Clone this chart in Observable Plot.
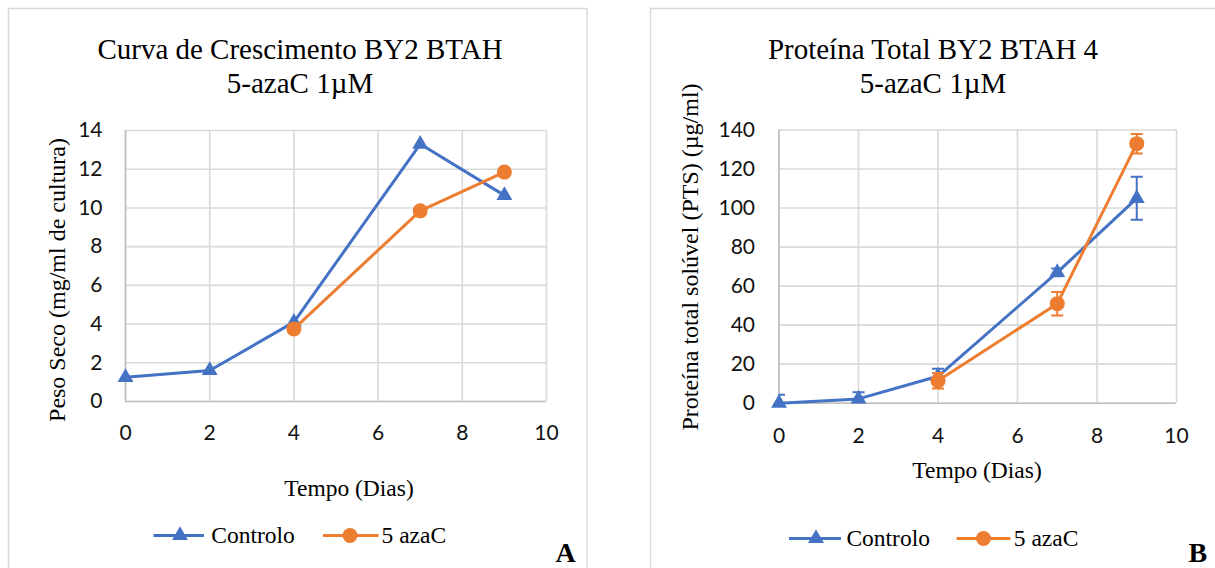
<!DOCTYPE html>
<html>
<head>
<meta charset="utf-8">
<script src="https://cdn.jsdelivr.net/npm/d3@7"></script>
<script src="https://cdn.jsdelivr.net/npm/@observablehq/plot@0.6"></script>
<style>
  html, body { margin: 0; padding: 0; background: #fff; }
  #wrap { position: relative; width: 1215px; height: 568px; overflow: hidden; background: #fff; }
  #wrap > svg { position: absolute; top: 0; }
  #overlay { left: 0; pointer-events: none; }
</style>
</head>
<body>
<div id="wrap"></div>
<script>
// ---------- data ----------
const days = [0, 2, 4, 7, 9];
const daysAza = [4, 7, 9];
const xTicks = [0, 2, 4, 6, 8, 10];

// Chart A – Peso Seco (mg/ml de cultura)
const pesoControlo = [1.25, 1.6, 4.1, 13.3, 10.65];
const pesoAza = [3.75, 9.85, 11.85];
const yTicksA = [0, 2, 4, 6, 8, 10, 12, 14];

// Chart B – Proteína total solúvel (µg/ml)
const protControlo = [0, 2.2, 13.8, 67, 105];
const protControloErr = [4.3, 3.4, 3.8, 2, 11];
const protAza = [11.5, 51, 133];
const protAzaErr = [4, 6, 5];
const yTicksB = [0, 20, 40, 60, 80, 100, 120, 140];

const seriesNames = ["Controlo", "5 azaC"];
const BLUE = "#4472C4", ORANGE = "#ED7D31";
const GRID = "#d9d9d9", AXIS = "#bfbfbf";

// ---------- tables ----------
const tA_c = days.map((d, i) => ({x: d, y: pesoControlo[i]}));
const tA_a = daysAza.map((d, i) => ({x: d, y: pesoAza[i]}));
const tB_c = days.map((d, i) => ({x: d, y: protControlo[i], e: protControloErr[i]}));
const tB_a = daysAza.map((d, i) => ({x: d, y: protAza[i], e: protAzaErr[i]}));

const capSymbol = {
  draw(context, size) {
    const w = Math.sqrt(size / Math.PI);
    context.moveTo(-w, 0);
    context.lineTo(w, 0);
  }
};

function errMarks(t, color) {
  return [
    Plot.ruleX(t, {x: "x", y1: d => d.y - d.e, y2: d => d.y + d.e, stroke: color, strokeWidth: 2, clip: true}),
    Plot.dot(t, {x: "x", y: d => d.y + d.e, symbol: capSymbol, r: 6, stroke: color, strokeWidth: 2, clip: true}),
    Plot.dot(t, {x: "x", y: d => d.y - d.e, symbol: capSymbol, r: 6, stroke: color, strokeWidth: 2, clip: true})
  ];
}

function makeChart(o) {
  return Plot.plot({
    width: o.width, height: 568,
    marginLeft: o.ml, marginRight: o.mr, marginTop: o.mt, marginBottom: o.mb,
    style: {fontFamily: "Lato, sans-serif", fontSize: "21px", color: "#111", background: "white", overflow: "visible"},
    x: {domain: [0, 10], ticks: xTicks, tickSize: 0, tickPadding: o.xpad, label: null},
    y: {domain: o.ydomain, ticks: o.yticks, tickSize: 0, tickPadding: o.ypad, label: null},
    marks: [
      Plot.gridX(xTicks, {stroke: GRID, strokeOpacity: 1, strokeWidth: 1.6}),
      Plot.gridY(o.yticks, {stroke: GRID, strokeOpacity: 1, strokeWidth: 1.6}),
      Plot.ruleX([0], {stroke: AXIS, strokeWidth: 1.6}),
      Plot.ruleY([0], {stroke: AXIS, strokeWidth: 1.6}),
      Plot.line(o.c, {x: "x", y: "y", stroke: BLUE, strokeWidth: 3}),
      Plot.dot(o.c, {x: "x", y: "y", symbol: "triangle", r: 5.9, fill: BLUE}),
      ...(o.err ? errMarks(o.c, BLUE) : []),
      Plot.line(o.a, {x: "x", y: "y", stroke: ORANGE, strokeWidth: 3}),
      Plot.dot(o.a, {x: "x", y: "y", symbol: "circle", r: 7.5, fill: ORANGE}),
      ...(o.err ? errMarks(o.a, ORANGE) : [])
    ]
  });
}

const wrap = document.getElementById("wrap");

const chartA = makeChart({width: 600, ml: 125, mr: 54, mt: 130, mb: 167, xpad: 23.5, ypad: 23,
  ydomain: [0, 14], yticks: yTicksA, c: tA_c, a: tA_a, err: false});
chartA.style.left = "0px";
wrap.appendChild(chartA);

const chartB = makeChart({width: 605, ml: 168.5, mr: 39, mt: 129.5, mb: 165.3, xpad: 24.6, ypad: 24,
  ydomain: [0, 140], yticks: yTicksB, c: tB_c, a: tB_a, err: true});
chartB.style.left = "610px";
wrap.appendChild(chartB);

// ---------- overlay: frames, titles, axis titles, legends ----------
const NS = "http://www.w3.org/2000/svg";
const ov = document.createElementNS(NS, "svg");
ov.setAttribute("id", "overlay");
ov.setAttribute("width", 1215);
ov.setAttribute("height", 568);
wrap.appendChild(ov);

function el(tag, attrs, text) {
  const e = document.createElementNS(NS, tag);
  for (const k in attrs) e.setAttribute(k, attrs[k]);
  if (text != null) e.textContent = text;
  ov.appendChild(e);
  return e;
}
const SERIF = "'Liberation Serif', 'Times New Roman', serif";

// panel frames
el("rect", {x: 8.5, y: 8.5, width: 578.5, height: 580, fill: "none", stroke: GRID, "stroke-width": 1.5});
el("rect", {x: 650.5, y: 8.5, width: 600, height: 580, fill: "none", stroke: GRID, "stroke-width": 1.5});

// titles
const titles = [
  {x: 300, l1: "Curva de Crescimento BY2 BTAH", l2: "5-azaC 1\u00B5M"},
  {x: 933, l1: "Proteína Total BY2 BTAH 4", l2: "5-azaC 1\u00B5M"}
];
for (const t of titles) {
  el("text", {x: t.x, y: 59, "text-anchor": "middle", "font-family": SERIF, "font-size": 29, fill: "#000"}, t.l1);
  el("text", {x: t.x, y: 93, "text-anchor": "middle", "font-family": SERIF, "font-size": 29, fill: "#000"}, t.l2);
}

// axis titles
el("text", {x: 349, y: 496, "text-anchor": "middle", "font-family": SERIF, "font-size": 23.5, fill: "#000"}, "Tempo (Dias)");
el("text", {x: 977, y: 478, "text-anchor": "middle", "font-family": SERIF, "font-size": 23.5, fill: "#000"}, "Tempo (Dias)");
el("text", {transform: "translate(64.6,280) rotate(-90)", "text-anchor": "middle", "font-family": SERIF, "font-size": 24, fill: "#000"}, "Peso Seco (mg/ml de cultura)");
el("text", {transform: "translate(698.2,257) rotate(-90)", "text-anchor": "middle", "font-family": SERIF, "font-size": 24, fill: "#000"}, "Proteína total solúvel (PTS) (\u00B5g/ml)");

// legends
function triPath(cx, cy, s) {
  const h = s * Math.sqrt(3) / 2;
  return `M${cx},${cy - 2 * h / 3}L${cx + s / 2},${cy + h / 3}L${cx - s / 2},${cy + h / 3}Z`;
}
const legends = [
  {y: 535.5, base: 543, c: [153.5, 204, 180, 211.3], a: [323, 378.5, 350, 381.5]},
  {y: 538.5, base: 545.5, c: [789, 841, 816, 846.4], a: [956.6, 1010.4, 983.5, 1013.8]}
];
for (const L of legends) {
  el("line", {x1: L.c[0], x2: L.c[1], y1: L.y, y2: L.y, stroke: BLUE, "stroke-width": 3});
  el("path", {d: triPath(L.c[2], L.y, 16), fill: BLUE});
  el("text", {x: L.c[3], y: L.base, "font-family": SERIF, "font-size": 23.5, fill: "#000"}, seriesNames[0]);
  el("line", {x1: L.a[0], x2: L.a[1], y1: L.y, y2: L.y, stroke: ORANGE, "stroke-width": 3});
  el("circle", {cx: L.a[2], cy: L.y, r: 7.5, fill: ORANGE});
  el("text", {x: L.a[3], y: L.base, "font-family": SERIF, "font-size": 23.5, fill: "#000"}, seriesNames[1]);
}

// panel letters
el("text", {x: 555.5, y: 562, "font-family": SERIF, "font-size": 28, "font-weight": "bold", fill: "#000"}, "A");
el("text", {x: 1188.5, y: 561.5, "font-family": SERIF, "font-size": 28, "font-weight": "bold", fill: "#000"}, "B");
</script>
</body>
</html>
